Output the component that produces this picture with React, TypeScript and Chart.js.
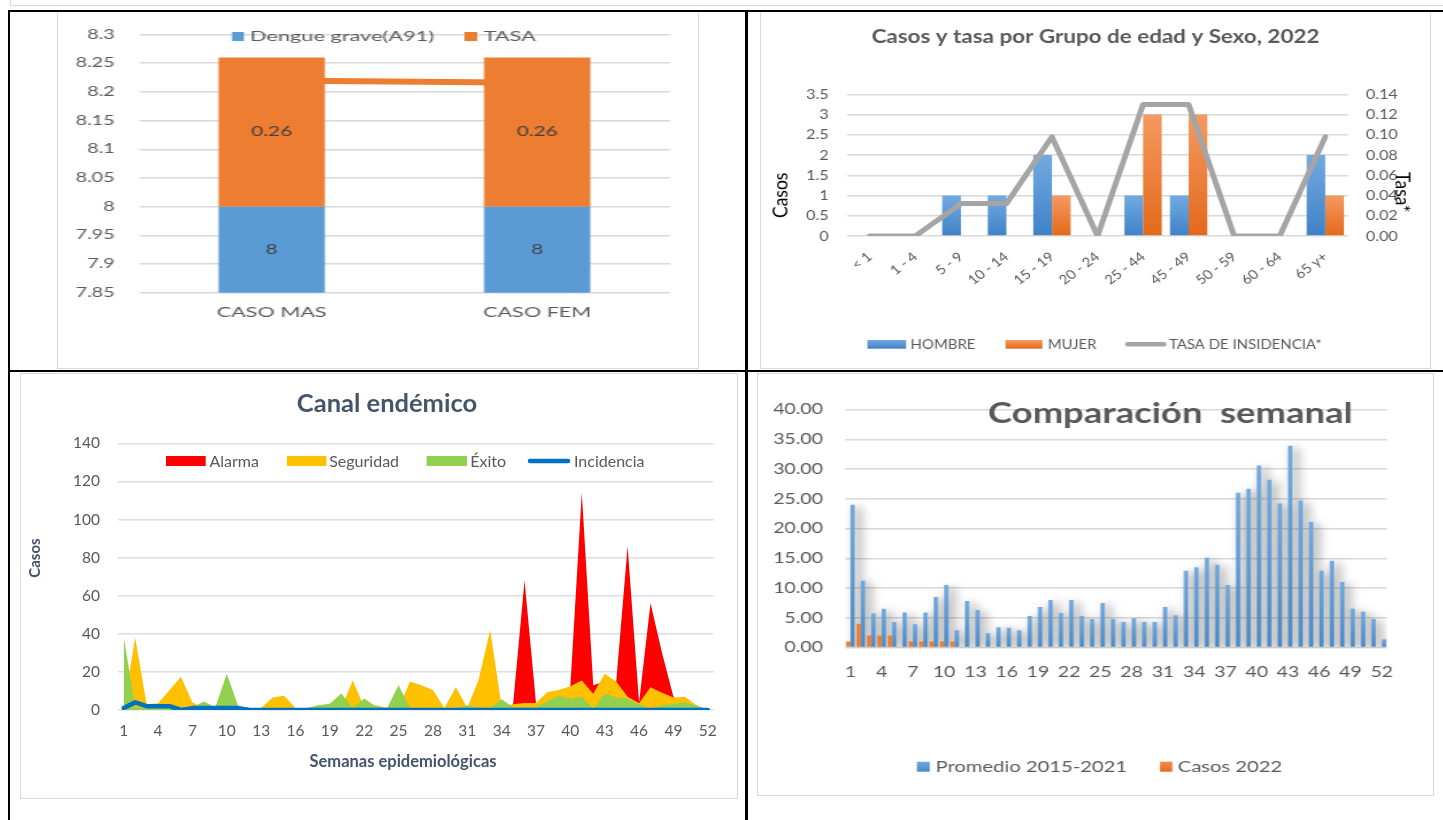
import React, { useEffect, useRef } from "react";
import { Chart, registerables } from "chart.js";

Chart.register(...registerables);

const FONT_FAMILY = "Lato, 'Noto Sans', sans-serif";
Chart.defaults.font.family = FONT_FAMILY;

const GRID = "#d9d9d9";
const TICK = "#595959";
const BLUE = "#5b9bd5";
const ORANGE = "#ed7d31";
const SLATE = "#44546a";

// ---------------- Top-left: Dengue grave por sexo ----------------
const tlCategories = ["CASO MAS", "CASO FEM"];
const tlDengueGrave = [8, 8];
const tlTasa = [0.26, 0.26];
const tlTasaLinea = [8.22, 8.216];
const tlTicks = [7.85, 7.9, 7.95, 8, 8.05, 8.1, 8.15, 8.2, 8.25, 8.3];

// ---------------- Top-right: Casos y tasa por grupo de edad ----------------
const trTitle = "Casos y tasa por Grupo de edad y Sexo, 2022";
const trCategories = ["< 1", "1 - 4", "5 - 9", "10 - 14", "15 - 19", "20 - 24", "25 - 44", "45 - 49", "50 - 59", "60 - 64", "65 y+"];
const trHombre = [0, 0, 1, 1, 2, 0, 1, 1, 0, 0, 2];
const trMujer = [0, 0, 0, 0, 1, 0, 3, 3, 0, 0, 1];
const trTasa = [0, 0, 0.032, 0.032, 0.098, 0, 0.13, 0.13, 0, 0, 0.098];
const trCasosTicks = [0, 0.5, 1, 1.5, 2, 2.5, 3, 3.5];
const trTasaTicks = [0, 0.02, 0.04, 0.06, 0.08, 0.1, 0.12, 0.14];

// ---------------- Bottom-left: Canal endémico ----------------
const weeks = ["1", "2", "3", "4", "5", "6", "7", "8", "9", "10", "11", "12", "13", "14", "15", "16", "17", "18", "19", "20", "21", "22", "23", "24", "25", "26", "27", "28", "29", "30", "31", "32", "33", "34", "35", "36", "37", "38", "39", "40", "41", "42", "43", "44", "45", "46", "47", "48", "49", "50", "51", "52"];
const blAlarma = [0.5, 0.5, 0.5, 0.5, 0.5, 0.5, 0.5, 0.5, 0.5, 0.5, 0.5, 0.5, 0.5, 0.5, 0.5, 0.5, 0.5, 0.5, 0.5, 0.5, 0.5, 0.5, 0.5, 0.5, 0.5, 0.5, 0.5, 0.5, 0.5, 0.5, 0.5, 0.5, 0.5, 0.5, 3, 68, 3.7, 0.5, 0.5, 12.5, 114, 13, 15, 14.5, 86, 4, 56, 30, 7, 0.5, 0.5, 0];
const blSeguridad = [1, 38, 3, 3.5, 10.5, 17.5, 4, 1, 1, 1, 1.5, 1, 1, 6.5, 7.5, 1, 1, 1, 1, 1, 15.5, 1.5, 2.5, 1, 1, 15, 13, 10.5, 1, 12, 1, 16, 42, 2, 3, 3.7, 3.7, 9.5, 10.5, 12.5, 15.5, 8.5, 19, 15, 7, 3.5, 12, 9, 6.5, 7, 2.5, 0];
const blExito = [38.5, 1.5, 1.5, 1.5, 1.5, 1, 1.5, 4.5, 1.5, 19, 2, 1, 1, 1, 1, 1, 1, 2.5, 3.3, 8.6, 1, 6, 2, 1, 13, 1, 1, 1, 1, 1, 2.5, 1.2, 1, 5.6, 1.5, 1.5, 1.5, 4.6, 7.4, 6, 7, 0.7, 8.6, 6.5, 6, 3, 0.7, 2.5, 3.3, 4, 2.5, 0];
const blIncidencia = [1, 4, 2, 2, 2, 0, 1, 1, 1, 1, 1, 0, 0, 0, 0, 0, 0, 0, 0, 0, 0, 0, 0, 0, 0, 0, 0, 0, 0, 0, 0, 0, 0, 0, 0, 0, 0, 0, 0, 0, 0, 0, 0, 0, 0, 0, 0, 0, 0, 0, 0, 0];
const blTicks = [0, 20, 40, 60, 80, 100, 120, 140];

// ---------------- Bottom-right: Comparación semanal ----------------
const brPromedio = [24.0, 11.2, 5.7, 6.5, 4.3, 5.9, 3.9, 5.9, 8.5, 10.5, 2.9, 7.8, 6.3, 2.4, 3.4, 3.3, 2.9, 5.3, 6.8, 8.0, 5.8, 8.0, 5.3, 4.8, 7.5, 4.8, 4.3, 4.9, 4.3, 4.3, 6.8, 5.4, 12.9, 13.5, 15.1, 13.9, 10.5, 26.0, 26.7, 30.6, 28.2, 24.2, 33.9, 24.7, 21.1, 12.9, 14.6, 11.0, 6.5, 6.0, 4.8, 1.4];
const brCasos2022 = [1, 4, 2, 2, 2, 0, 1, 1, 1, 1, 1, 0, 0, 0, 0, 0, 0, 0, 0, 0, 0, 0, 0, 0, 0, 0, 0, 0, 0, 0, 0, 0, 0, 0, 0, 0, 0, 0, 0, 0, 0, 0, 0, 0, 0, 0, 0, 0, 0, 0, 0, 0];
const brTicks = [0, 5, 10, 15, 20, 25, 30, 35, 40];

// ---------------- helpers ----------------
const cfont = (size: number, weight: string = "normal") => `${weight} ${size}px ${FONT_FAMILY}`;
const jfont = (size: number, weight: string = "normal") => ({ family: FONT_FAMILY, size, weight: weight as any });

function txt(ctx: CanvasRenderingContext2D, s: string, x: number, y: number, font: string, color: string, align: CanvasTextAlign = "left", rot = 0) {
  ctx.save();
  ctx.font = font;
  ctx.fillStyle = color;
  ctx.textAlign = align;
  ctx.textBaseline = "middle";
  ctx.translate(x, y);
  if (rot) ctx.rotate(rot);
  ctx.fillText(s, 0, 0);
  ctx.restore();
}

function gradBox(ctx: CanvasRenderingContext2D, x: number, y: number, w: number, h: number, top: string, bottom: string) {
  const g = ctx.createLinearGradient(0, y, 0, y + h);
  g.addColorStop(0, top);
  g.addColorStop(1, bottom);
  ctx.fillStyle = g;
  ctx.fillRect(x, y, w, h);
}

function lineSwatch(ctx: CanvasRenderingContext2D, x1: number, x2: number, y: number, color: string, w: number) {
  ctx.save();
  ctx.strokeStyle = color;
  ctx.lineWidth = w;
  ctx.lineCap = "round";
  ctx.beginPath();
  ctx.moveTo(x1, y);
  ctx.lineTo(x2, y);
  ctx.stroke();
  ctx.restore();
}

const vGrad = (top: string, bottom: string, axis: string) => (c: any) => {
  if (!c || c.type !== "data") return bottom;
  const chart = c.chart;
  const sc = chart.scales && chart.scales[axis];
  if (!sc) return bottom;
  const y0 = sc.getPixelForValue(c.raw);
  const y1 = sc.getPixelForValue(0);
  if (!isFinite(y0) || !isFinite(y1) || Math.abs(y1 - y0) < 1) return bottom;
  const g = chart.ctx.createLinearGradient(0, y0, 0, y1);
  g.addColorStop(0, top);
  g.addColorStop(1, bottom);
  return g;
};

const fixTicks = (list: number[]) => (scale: any) => {
  scale.ticks = list.map((v) => ({ value: v }));
};

function StretchedChart(props: { left: number; top: number; width: number; height: number; stretch: number; make: (w: number, h: number) => any }) {
  const { left, top, width, height, stretch, make } = props;
  const ref = useRef<HTMLCanvasElement | null>(null);
  const iw = Math.round(width / stretch);
  useEffect(() => {
    const c = ref.current;
    if (!c) return;
    c.width = iw;
    c.height = height;
    const chart = new Chart(c, make(iw, height));
    return () => chart.destroy();
  }, []);
  return <canvas ref={ref} width={iw} height={height} style={{ position: "absolute", left, top, width, height }} />;
}

// ---------------- chart configs ----------------
const makeTL = (w: number, h: number) => ({
  type: "bar",
  data: {
    labels: tlCategories,
    datasets: [
      { type: "line", label: "TASA (línea)", data: tlTasaLinea, borderColor: ORANGE, backgroundColor: ORANGE, borderWidth: 6, pointRadius: 0, order: 2 },
      { type: "bar", label: "Dengue grave(A91)", data: tlDengueGrave, backgroundColor: BLUE, order: 1, barPercentage: 0.4, categoryPercentage: 1 },
      { type: "bar", label: "TASA", data: tlTasa, backgroundColor: ORANGE, order: 1, barPercentage: 0.4, categoryPercentage: 1 },
    ],
  },
  options: {
    responsive: false,
    animation: false,
    devicePixelRatio: 1,
    layout: { padding: { left: 0, right: w - 382.5, top: 17, bottom: 44.3 } },
    plugins: { legend: { display: false }, tooltip: { enabled: false } },
    scales: {
      x: {
        stacked: true,
        grid: { display: false, drawTicks: false },
        border: { display: false },
        ticks: { color: TICK, font: jfont(13.5), padding: 12 },
        afterFit: (s: any) => { s.height = 30; },
      },
      y: {
        stacked: true,
        min: 7.85,
        max: 8.3,
        afterBuildTicks: fixTicks(tlTicks),
        grid: { color: GRID, drawTicks: false, lineWidth: 1.5 },
        border: { display: false },
        ticks: { color: TICK, font: jfont(12.5), padding: 15, callback: (v: number) => String(Number(v.toFixed(2))) },
        afterFit: (s: any) => { s.width = 50.6; },
      },
    },
  },
  plugins: [
    {
      id: "tlDecor",
      afterDatasetsDraw(chart: any) {
        const ctx = chart.ctx;
        const area = chart.chartArea;
        [1, 2].forEach((di) => {
          const meta = chart.getDatasetMeta(di);
          meta.data.forEach((el: any, i: number) => {
            const top = Math.max(Math.min(el.y, el.base), area.top);
            const bot = Math.min(Math.max(el.y, el.base), area.bottom);
            const v = chart.data.datasets[di].data[i];
            txt(ctx, String(v), el.x, (top + bot) / 2, cfont(13), "#404040", "center");
          });
        });
      },
      afterDraw(chart: any) {
        const ctx = chart.ctx;
        const ds = chart.data.datasets;
        ctx.fillStyle = BLUE;
        ctx.fillRect(108.75, 20, 7.5, 9);
        txt(ctx, ds[1].label, 120, 24.8, cfont(13.6), TICK);
        ctx.fillStyle = ORANGE;
        ctx.fillRect(254, 20, 8, 9);
        txt(ctx, ds[2].label, 266, 24.8, cfont(13.6), TICK);
      },
    },
  ],
});

const makeTR = (w: number, h: number) => ({
  type: "bar",
  data: {
    labels: trCategories,
    datasets: [
      { type: "line", label: "TASA DE INSIDENCIA*", data: trTasa, yAxisID: "y2", borderColor: "#a5a5a5", backgroundColor: "#a5a5a5", borderWidth: 5, pointRadius: 0, borderJoinStyle: "round", borderCapStyle: "round", order: 0 },
      { type: "bar", label: "HOMBRE", data: trHombre, yAxisID: "y", backgroundColor: vGrad("#72aae0", "#3f82c8", "y"), order: 1, barPercentage: 1, categoryPercentage: 0.82 },
      { type: "bar", label: "MUJER", data: trMujer, yAxisID: "y", backgroundColor: vGrad("#f59a62", "#e3691a", "y"), order: 1, barPercentage: 1, categoryPercentage: 0.82 },
    ],
  },
  options: {
    responsive: false,
    animation: false,
    devicePixelRatio: 1,
    layout: { padding: { left: 0, right: 0, top: 82.3, bottom: 0 } },
    plugins: { legend: { display: false }, tooltip: { enabled: false } },
    scales: {
      x: {
        grid: { display: false, drawTicks: false },
        border: { display: false },
        ticks: { color: TICK, font: jfont(13), padding: 13, autoSkip: false, minRotation: 41, maxRotation: 41 },
        afterFit: (s: any) => { s.height = 131; },
      },
      y: {
        position: "left",
        min: 0,
        max: 3.5,
        afterBuildTicks: fixTicks(trCasosTicks),
        grid: { color: GRID, drawTicks: false, lineWidth: 1.5 },
        border: { display: false },
        ticks: { color: TICK, font: jfont(14), padding: 16, callback: (v: number) => String(v) },
        afterFit: (s: any) => { s.width = 74.8; },
      },
      y2: {
        position: "right",
        min: 0,
        max: 0.14,
        afterBuildTicks: fixTicks(trTasaTicks),
        grid: { display: false, drawTicks: false },
        border: { display: false },
        ticks: { color: TICK, font: jfont(14), padding: 15.6, callback: (v: number) => v.toFixed(2) },
        afterFit: (s: any) => { s.width = w - 510.7; },
      },
    },
  },
  plugins: [
    {
      id: "trDecor",
      afterDraw(chart: any) {
        const ctx = chart.ctx;
        const ds = chart.data.datasets;
        txt(ctx, trTitle, 291, 24.7, cfont(19.5, "bold"), TICK, "center");
        txt(ctx, "Casos", 17, 183.3, cfont(17.5), "#000000", "center", -Math.PI / 2);
        txt(ctx, "Tasa*", 558, 180.3, cfont(17.5), "#000000", "center", Math.PI / 2);
        gradBox(ctx, 92.6, 328, 33.6, 8.7, "#72aae0", "#3f82c8");
        txt(ctx, ds[1].label, 130.1, 332.6, cfont(13), TICK);
        gradBox(ctx, 212.7, 328, 32.1, 8.7, "#f59a62", "#e3691a");
        txt(ctx, ds[2].label, 249.4, 332.6, cfont(13), TICK);
        lineSwatch(ctx, 319, 350.5, 332.3, "#a5a5a5", 4.5);
        txt(ctx, ds[0].label, 354.9, 332.6, cfont(13), TICK);
      },
    },
  ],
});

const makeBL = (w: number, h: number) => ({
  type: "line",
  data: {
    labels: weeks,
    datasets: [
      { label: "Alarma", data: blAlarma, backgroundColor: "#ff0000", borderColor: "rgba(0,0,0,0)", borderWidth: 0, pointRadius: 0, fill: "origin", order: 3 },
      { label: "Seguridad", data: blSeguridad, backgroundColor: "#ffc000", borderColor: "rgba(0,0,0,0)", borderWidth: 0, pointRadius: 0, fill: "origin", order: 2 },
      { label: "Éxito", data: blExito, backgroundColor: "#92d050", borderColor: "rgba(0,0,0,0)", borderWidth: 0, pointRadius: 0, fill: "origin", order: 1 },
      { label: "Incidencia", data: blIncidencia, borderColor: "#0070c0", backgroundColor: "#0070c0", borderWidth: 4.5, pointRadius: 0, fill: false, order: 0, borderJoinStyle: "round", borderCapStyle: "round" },
    ],
  },
  options: {
    responsive: false,
    animation: false,
    devicePixelRatio: 1,
    layout: { padding: { left: 0, right: w - 692.5, top: 69.3, bottom: 0 } },
    plugins: { legend: { display: false }, tooltip: { enabled: false } },
    scales: {
      x: {
        offset: true,
        grid: { display: false, drawTicks: false },
        border: { display: false },
        ticks: { color: TICK, font: jfont(15.5), padding: 12, autoSkip: false, maxRotation: 0, callback: (_v: any, i: number) => (i % 3 === 0 ? weeks[i] : "") },
        afterFit: (s: any) => { s.height = 88; },
      },
      y: {
        min: 0,
        max: 140,
        afterBuildTicks: fixTicks(blTicks),
        grid: { color: "#d9dde4", drawTicks: false, lineWidth: 1.5 },
        border: { display: false },
        ticks: { color: TICK, font: jfont(15.5), padding: 18, callback: (v: number) => String(v) },
        afterFit: (s: any) => { s.width = 97; },
      },
    },
  },
  plugins: [
    {
      id: "blDecor",
      afterDraw(chart: any) {
        const ctx = chart.ctx;
        const ds = chart.data.datasets;
        txt(ctx, "Canal endémico", 366, 29.5, cfont(25.5, "bold"), SLATE, "center");
        txt(ctx, "Casos", 13.7, 184, cfont(15, "bold"), SLATE, "center", -Math.PI / 2);
        txt(ctx, "Semanas epidemiológicas", 382, 387.7, cfont(16.5, "bold"), SLATE, "center");
        ctx.fillStyle = "#ff0000";
        ctx.fillRect(145, 82, 39.7, 10);
        txt(ctx, ds[0].label, 188.5, 87.5, cfont(16), TICK);
        ctx.fillStyle = "#ffc000";
        ctx.fillRect(266, 82, 39.4, 10);
        txt(ctx, ds[1].label, 308.2, 87.5, cfont(16), TICK);
        ctx.fillStyle = "#92d050";
        ctx.fillRect(405.6, 82, 40.4, 10);
        txt(ctx, ds[2].label, 449.3, 87.5, cfont(16), TICK);
        lineSwatch(ctx, 509, 547, 87, "#0070c0", 4.5);
        txt(ctx, ds[3].label, 553, 87.5, cfont(16), TICK);
      },
    },
  ],
});

const makeBR = (w: number, h: number) => ({
  type: "bar",
  data: {
    labels: weeks,
    datasets: [
      { label: "Promedio 2015-2021", data: brPromedio, backgroundColor: vGrad("#70a9de", "#4a89c8", "y"), order: 1, barPercentage: 0.95, categoryPercentage: 0.85 },
      { label: "Casos 2022", data: brCasos2022, backgroundColor: ORANGE, order: 0, barPercentage: 0.95, categoryPercentage: 0.85 },
    ],
  },
  options: {
    responsive: false,
    animation: false,
    devicePixelRatio: 1,
    layout: { padding: { left: 0, right: w - 483.6, top: 35.5, bottom: 0 } },
    plugins: { legend: { display: false }, tooltip: { enabled: false } },
    scales: {
      x: {
        grid: { display: false, drawTicks: false },
        border: { display: false },
        ticks: { color: TICK, font: jfont(15), padding: 16, autoSkip: false, maxRotation: 0, callback: (_v: any, i: number) => (i % 3 === 0 ? weeks[i] : "") },
        afterFit: (s: any) => { s.height = 147.5; },
      },
      y: {
        min: 0,
        max: 40,
        afterBuildTicks: fixTicks(brTicks),
        grid: { color: GRID, drawTicks: false, lineWidth: 1.5 },
        border: { display: false },
        ticks: { color: TICK, font: jfont(15), padding: 17, callback: (v: number) => v.toFixed(2) },
        afterFit: (s: any) => { s.width = 67; },
      },
    },
  },
  plugins: [
    {
      id: "brShadow",
      beforeDatasetDraw(chart: any, args: any) {
        if (args.index !== 0) return;
        const ctx = chart.ctx;
        ctx.save();
        ctx.shadowColor = "rgba(0,0,0,0.55)";
        ctx.shadowBlur = 9;
        ctx.shadowOffsetX = 4;
        ctx.shadowOffsetY = 2;
      },
      afterDatasetDraw(chart: any, args: any) {
        if (args.index !== 0) return;
        chart.ctx.restore();
      },
    },
    {
      id: "brDecor",
      afterDraw(chart: any) {
        const ctx = chart.ctx;
        const ds = chart.data.datasets;
        txt(ctx, "Comparación  semanal", 317, 39.5, cfont(28, "bold"), TICK, "center");
        gradBox(ctx, 122.2, 387.7, 9.9, 10, "#70a9de", "#4a89c8");
        txt(ctx, ds[0].label, 136.6, 393, cfont(15.5), TICK);
        gradBox(ctx, 309.1, 387.7, 9.5, 10, "#f48a4a", "#e46c1e");
        txt(ctx, ds[1].label, 322.8, 393, cfont(15.5), TICK);
      },
    },
  ],
});

const abs = (left: number, top: number, width: number, height: number, extra: any = {}) => ({
  position: "absolute" as const,
  left,
  top,
  width,
  height,
  boxSizing: "border-box" as const,
  ...extra,
});

export default function App() {
  return (
    <div style={{ position: "absolute", left: 0, top: 0, width: 1443, height: 820, background: "#ffffff", overflow: "hidden" }}>
      {/* faint remnant of the row above */}
      <div style={abs(10, 5, 1433, 1, { background: GRID })} />
      <div style={abs(10, 0, 1, 5, { background: GRID })} />

      {/* chart frames */}
      <div style={abs(57, 11, 642, 358, { border: `1px solid ${GRID}` })} />
      <div style={abs(760, 11, 671, 358, { border: `1px solid ${GRID}` })} />
      <div style={abs(20, 373, 718, 426, { border: `1px solid ${GRID}` })} />
      <div style={abs(757, 373, 677, 423, { border: `1px solid ${GRID}` })} />

      <StretchedChart left={58} top={12} width={640} height={355} stretch={1.6} make={makeTL} />
      <StretchedChart left={761} top={12} width={669} height={355} stretch={1.1495} make={makeTR} />
      <StretchedChart left={21} top={374} width={716} height={424} stretch={1} make={makeBL} />
      <StretchedChart left={758} top={374} width={675} height={421} stretch={1.3006} make={makeBR} />

      {/* table borders */}
      <div style={abs(8, 10, 1435, 2, { background: "#000" })} />
      <div style={abs(8, 10, 2, 810, { background: "#000" })} />
      <div style={abs(745, 10, 3, 810, { background: "#000" })} />
      <div style={abs(8, 370, 1435, 2, { background: "#000" })} />
    </div>
  );
}
